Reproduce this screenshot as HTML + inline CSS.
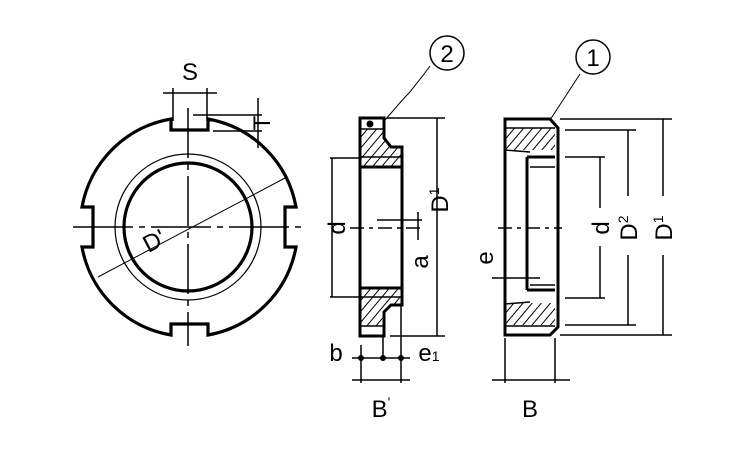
<!DOCTYPE html>
<html><head><meta charset="utf-8"><style>html,body{margin:0;padding:0;background:#fff}svg{display:block}</style></head>
<body>
<svg width="750" height="450" viewBox="0 0 750 450" xmlns="http://www.w3.org/2000/svg" font-family="Liberation Sans, sans-serif" fill="none" stroke="#000">
<defs>
<pattern id="h" width="7" height="7" patternUnits="userSpaceOnUse" patternTransform="rotate(40)"><line x1="0" y1="0" x2="0" y2="7" stroke="#000" stroke-width="2"/></pattern>
</defs>
<g stroke-width="3.2">
<path d="M171,119 L171,130 L208,130 L208,119 A109,109 0 0 1 296,207 L285,207 L285,247 L296,247 A109,109 0 0 1 208,335 L208,324 L171,324 L171,335 A109,109 0 0 1 82,247 L93,247 L93,207 L82,207 A109,109 0 0 1 171,119 Z"/>
<circle cx="188" cy="227" r="64"/>
</g>
<circle cx="188" cy="227" r="73" stroke-width="1.2"/>
<g stroke-width="1.5">
<line x1="73" y1="227" x2="307" y2="227" stroke-dasharray="60,6,6,6"/>
<line x1="188" y1="108" x2="188" y2="346" stroke-dasharray="50,6,6,6"/>
<line x1="163" y1="93" x2="217" y2="93"/>
<line x1="173" y1="88" x2="173" y2="121"/>
<line x1="207" y1="88" x2="207" y2="121"/>
<line x1="193" y1="115" x2="262" y2="115"/>
<line x1="213" y1="131" x2="262" y2="131"/>
<line x1="258" y1="98" x2="258" y2="148"/>
<line x1="98" y1="277" x2="285" y2="178" stroke-width="1"/>
</g>
<text x="190" y="80" font-size="24" fill="#000" stroke="none" text-anchor="middle">S</text>
<text transform="translate(270,123) rotate(-90)" font-size="24" fill="#000" stroke="none" text-anchor="middle">T</text>
<text transform="translate(158,248) rotate(-28)" font-size="24" fill="#000" stroke="none" text-anchor="middle">D'</text>

<path d="M360,118 H384 V138 L391,147 H402 V167 H360 Z" fill="url(#h)" stroke="none"/>
<path d="M360,336 H384 V312 L391,305 H402 V288 H360 Z" fill="url(#h)" stroke="none"/>
<rect x="361" y="119" width="22" height="10" fill="#fff" stroke="none"/>
<rect x="361" y="326" width="22" height="9" fill="#fff" stroke="none"/>
<g stroke-width="3">
<path d="M360,118 H384 V138 L391,147 H402 V305 H391 L384,312 V336 H360 Z"/>
<line x1="360" y1="167" x2="402" y2="167"/>
<line x1="360" y1="288" x2="402" y2="288"/>
</g>
<g stroke-width="1.5">
<line x1="360" y1="129" x2="384" y2="129"/>
<line x1="360" y1="326" x2="384" y2="326"/>
<line x1="360" y1="157" x2="402" y2="157"/>
<line x1="360" y1="297" x2="402" y2="297"/>
</g>
<circle cx="370" cy="124" r="3" fill="#000"/>
<g stroke-width="1.5">
<line x1="332" y1="158" x2="332" y2="297"/>
<line x1="330" y1="158" x2="360" y2="158"/>
<line x1="330" y1="297" x2="360" y2="297"/>
<line x1="350" y1="228" x2="425" y2="228" stroke-dasharray="14,5,4,5"/>
<line x1="377" y1="220" x2="422" y2="220"/>
<line x1="418" y1="212" x2="418" y2="240"/>
<line x1="437" y1="118" x2="437" y2="336"/>
<line x1="387" y1="118" x2="445" y2="118"/>
<line x1="390" y1="336" x2="445" y2="336"/>
<line x1="352" y1="358" x2="410" y2="358"/>
<line x1="383" y1="336" x2="383" y2="358"/>
<line x1="361" y1="345" x2="361" y2="383"/>
<line x1="401" y1="305" x2="401" y2="383"/>
<line x1="352" y1="380" x2="410" y2="380"/>
<path d="M430,66 C420,80 415,85 410,92 C402,100 398,105 392,112 L385,120" stroke-width="1"/>
</g>
<circle cx="361" cy="358" r="2.5" fill="#000"/><circle cx="383" cy="358" r="2.5" fill="#000"/><circle cx="401" cy="358" r="2.5" fill="#000"/>
<circle cx="447" cy="53" r="17" stroke-width="1.5"/>
<g fill="#000" stroke="none" font-size="24" text-anchor="middle">
<text x="447" y="62">2</text>
<text transform="translate(345,228) rotate(-90)">d</text>
<text transform="translate(428,262) rotate(-90)">a</text>
<text transform="translate(448,200) rotate(-90)">D<tspan font-size="14" dy="-9">1</tspan></text>
<text x="336" y="361">b</text>
<text x="429" y="361">e<tspan font-size="14">1</tspan></text>
<text x="381" y="417">B<tspan font-size="14" dy="-10">'</tspan></text>
</g>

<path d="M505,128 H555 V150 H505 Z" fill="url(#h)" stroke="none"/>
<path d="M505,303 H555 V325 H505 Z" fill="url(#h)" stroke="none"/>
<g stroke-width="3">
<path d="M505,119 H550 L558,128 V327 L550,335 H505 Z"/>
<line x1="527" y1="157" x2="527" y2="290"/>
<line x1="527" y1="157" x2="555" y2="157"/>
<line x1="527" y1="290" x2="555" y2="290"/>
</g>
<g stroke-width="1.5">
<line x1="505" y1="128" x2="555" y2="128"/>
<line x1="505" y1="326" x2="555" y2="326"/>
<line x1="505" y1="150" x2="530" y2="152"/>
<line x1="505" y1="304" x2="530" y2="302"/>
<line x1="530" y1="167" x2="555" y2="167"/>
<line x1="530" y1="285" x2="555" y2="285"/>
<line x1="498" y1="228" x2="562" y2="228" stroke-dasharray="14,5,4,5"/>
<line x1="492" y1="278" x2="540" y2="278"/>
<line x1="600" y1="157" x2="600" y2="208"/><line x1="600" y1="246" x2="600" y2="298"/>
<line x1="565" y1="157" x2="605" y2="157"/>
<line x1="565" y1="298" x2="605" y2="298"/>
<line x1="628" y1="130" x2="628" y2="196"/><line x1="628" y1="255" x2="628" y2="325"/>
<line x1="565" y1="130" x2="636" y2="130"/>
<line x1="565" y1="325" x2="636" y2="325"/>
<line x1="663" y1="119" x2="663" y2="196"/><line x1="663" y1="255" x2="663" y2="335"/>
<line x1="560" y1="119" x2="672" y2="119"/>
<line x1="560" y1="335" x2="672" y2="335"/>
<line x1="505" y1="338" x2="505" y2="383"/>
<line x1="555" y1="338" x2="555" y2="383"/>
<line x1="492" y1="380" x2="570" y2="380"/>
<line x1="580" y1="74" x2="550" y2="120" stroke-width="1"/>
</g>
<circle cx="593" cy="57" r="17" stroke-width="1.5"/>
<g fill="#000" stroke="none" font-size="24" text-anchor="middle">
<text x="593" y="66">1</text>
<text transform="translate(609,228) rotate(-90)">d</text>
<text transform="translate(637,228) rotate(-90)">D<tspan font-size="14" dy="-9">2</tspan></text>
<text transform="translate(672,228) rotate(-90)">D<tspan font-size="14" dy="-9">1</tspan></text>
<text transform="translate(493,258) rotate(-90)">e</text>
<text x="530" y="417">B</text>
</g>
</svg>
</body></html>
